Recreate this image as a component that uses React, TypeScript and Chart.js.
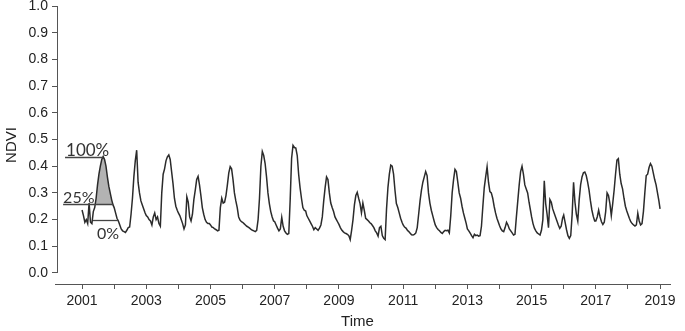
import React, { useEffect, useRef } from 'react';
import { Chart, registerables } from 'chart.js';

Chart.register(...registerables);

// NDVI, 23 composites (16-day) per year
const ndvi2001 = [0.236, 0.215, 0.19, 0.2, 0.185, 0.262, 0.19, 0.185, 0.23, 0.245, 0.28, 0.33, 0.37, 0.4, 0.425, 0.436, 0.425, 0.4, 0.36, 0.325, 0.3, 0.275, 0.255];
const ndvi2002 = [0.245, 0.225, 0.205, 0.195, 0.18, 0.165, 0.158, 0.155, 0.152, 0.16, 0.17, 0.172, 0.22, 0.28, 0.36, 0.42, 0.46, 0.34, 0.3, 0.27, 0.255, 0.24, 0.225];
const ndvi2003 = [0.215, 0.21, 0.2, 0.195, 0.18, 0.21, 0.225, 0.2, 0.21, 0.185, 0.175, 0.3, 0.37, 0.39, 0.42, 0.435, 0.442, 0.425, 0.38, 0.335, 0.28, 0.25, 0.235];
const ndvi2004 = [0.225, 0.215, 0.2, 0.185, 0.165, 0.18, 0.285, 0.265, 0.21, 0.195, 0.22, 0.275, 0.31, 0.35, 0.362, 0.33, 0.29, 0.245, 0.22, 0.2, 0.19, 0.185, 0.185];
const ndvi2005 = [0.18, 0.172, 0.17, 0.165, 0.162, 0.158, 0.16, 0.245, 0.28, 0.262, 0.265, 0.29, 0.33, 0.375, 0.398, 0.39, 0.35, 0.3, 0.27, 0.245, 0.21, 0.198, 0.192];
const ndvi2006 = [0.19, 0.185, 0.18, 0.175, 0.172, 0.168, 0.163, 0.16, 0.158, 0.155, 0.16, 0.2, 0.28, 0.4, 0.455, 0.44, 0.41, 0.36, 0.3, 0.26, 0.23, 0.21, 0.195];
const ndvi2007 = [0.192, 0.18, 0.168, 0.158, 0.165, 0.208, 0.175, 0.158, 0.15, 0.145, 0.148, 0.275, 0.43, 0.478, 0.47, 0.468, 0.44, 0.37, 0.32, 0.28, 0.245, 0.235, 0.232];
const ndvi2008 = [0.215, 0.205, 0.195, 0.185, 0.175, 0.162, 0.17, 0.165, 0.16, 0.168, 0.18, 0.21, 0.27, 0.32, 0.36, 0.35, 0.3, 0.262, 0.245, 0.23, 0.21, 0.2, 0.19];
const ndvi2009 = [0.182, 0.17, 0.161, 0.155, 0.15, 0.148, 0.145, 0.14, 0.125, 0.16, 0.2, 0.255, 0.29, 0.302, 0.28, 0.26, 0.225, 0.262, 0.235, 0.205, 0.2, 0.195, 0.188];
const ndvi2010 = [0.185, 0.178, 0.17, 0.158, 0.15, 0.138, 0.17, 0.175, 0.14, 0.13, 0.125, 0.24, 0.32, 0.37, 0.404, 0.4, 0.37, 0.31, 0.26, 0.245, 0.225, 0.205, 0.19];
const ndvi2011 = [0.18, 0.172, 0.168, 0.16, 0.155, 0.149, 0.143, 0.142, 0.145, 0.15, 0.17, 0.22, 0.27, 0.31, 0.34, 0.36, 0.38, 0.365, 0.3, 0.262, 0.235, 0.215, 0.195];
const ndvi2012 = [0.18, 0.17, 0.163, 0.158, 0.152, 0.148, 0.155, 0.16, 0.158, 0.16, 0.15, 0.215, 0.3, 0.35, 0.388, 0.38, 0.34, 0.3, 0.28, 0.25, 0.225, 0.205, 0.185];
const ndvi2013 = [0.165, 0.158, 0.149, 0.14, 0.132, 0.145, 0.14, 0.142, 0.138, 0.14, 0.175, 0.25, 0.32, 0.36, 0.398, 0.34, 0.305, 0.3, 0.28, 0.25, 0.225, 0.205, 0.19];
const ndvi2014 = [0.178, 0.165, 0.158, 0.155, 0.17, 0.19, 0.18, 0.165, 0.158, 0.15, 0.142, 0.145, 0.21, 0.27, 0.33, 0.38, 0.4, 0.37, 0.33, 0.315, 0.3, 0.265, 0.235];
const ndvi2015 = [0.21, 0.185, 0.168, 0.158, 0.15, 0.146, 0.142, 0.16, 0.2, 0.345, 0.26, 0.22, 0.17, 0.275, 0.265, 0.24, 0.225, 0.21, 0.195, 0.18, 0.167, 0.175, 0.205];
const ndvi2016 = [0.217, 0.19, 0.162, 0.14, 0.13, 0.14, 0.22, 0.34, 0.265, 0.22, 0.195, 0.275, 0.33, 0.36, 0.375, 0.378, 0.365, 0.34, 0.31, 0.27, 0.236, 0.212, 0.195];
const ndvi2017 = [0.195, 0.21, 0.235, 0.21, 0.192, 0.182, 0.19, 0.23, 0.3, 0.29, 0.26, 0.215, 0.26, 0.31, 0.37, 0.423, 0.428, 0.37, 0.335, 0.315, 0.28, 0.25, 0.232];
const ndvi2018 = [0.22, 0.205, 0.192, 0.185, 0.18, 0.176, 0.18, 0.224, 0.195, 0.18, 0.185, 0.23, 0.3, 0.365, 0.37, 0.395, 0.41, 0.4, 0.375, 0.35, 0.33, 0.3, 0.27];
const ndvi2019 = [0.24];

const seriesYears = [2001, 2002, 2003, 2004, 2005, 2006, 2007, 2008, 2009, 2010, 2011, 2012, 2013, 2014, 2015, 2016, 2017, 2018, 2019];
const yearlySeries = [ndvi2001, ndvi2002, ndvi2003, ndvi2004, ndvi2005, ndvi2006, ndvi2007, ndvi2008, ndvi2009, ndvi2010, ndvi2011, ndvi2012, ndvi2013, ndvi2014, ndvi2015, ndvi2016, ndvi2017, ndvi2018, ndvi2019];

const xTickYears = [2001, 2002, 2003, 2004, 2005, 2006, 2007, 2008, 2009, 2010, 2011, 2012, 2013, 2014, 2015, 2016, 2017, 2018, 2019];
const yTickValues = [0, 0.1, 0.2, 0.3, 0.4, 0.5, 0.6, 0.7, 0.8, 0.9, 1.0];
const xTitle = 'Time';
const yTitle = 'NDVI';

// highlighted growing season (2001), composites 9..22, filled above the 25% level
const seasonFirstIndex = 9;
const markerLabels = ['100%', '25%', '0%'];
const markerLevels = [0.436, 0.257, 0.198];
const markerStart = [2000.47, 2000.41, 2001.34];
const markerEnd = [2001.65, 2001.97, 2002.12];

const COMPOSITE_STEP = 16 / 365;

const linePoints: { x: number; y: number }[] = [];
yearlySeries.forEach((arr, k) => {
  arr.forEach((v, i) => linePoints.push({ x: seriesYears[k] + i * COMPOSITE_STEP, y: v }));
});
const seasonPoints = ndvi2001.slice(seasonFirstIndex).map((v, j) => ({
  x: 2001 + (j + seasonFirstIndex) * COMPOSITE_STEP,
  y: v,
}));

const AXIS_FONT = "'Liberation Sans', Arial, sans-serif";

const annotationPlugin = {
  id: 'ndviAnnotations',
  afterDatasetsDraw(chart: any) {
    const { ctx, scales, chartArea } = chart;
    const xs = scales.x;
    const ys = scales.y;
    ctx.save();
    // y axis line from first to last tick
    ctx.strokeStyle = '#555';
    ctx.lineWidth = 1;
    const ax = Math.floor(chartArea.left) + 0.5;
    ctx.beginPath();
    ctx.moveTo(ax, ys.getPixelForValue(yTickValues[yTickValues.length - 1]));
    ctx.lineTo(ax, ys.getPixelForValue(yTickValues[0]));
    ctx.stroke();
    // small extension of the x axis line to the left of the y axis
    const bx = Math.floor(chartArea.bottom) + 0.5;
    ctx.beginPath();
    ctx.moveTo(chartArea.left - 2, bx);
    ctx.lineTo(chartArea.left + 1, bx);
    ctx.stroke();

    // x axis title, centred on the plot region
    ctx.fillStyle = '#222';
    ctx.font = `15px ${AXIS_FONT}`;
    ctx.textAlign = 'center';
    ctx.textBaseline = 'middle';
    ctx.fillText(xTitle, (chartArea.left + chartArea.right) / 2 - 6, chart.height - 9);

    // percentage markers
    const textOffsets = [
      { dx: 1, dy: -2, size: 17 },
      { dx: 0, dy: -2, size: 16 },
      { dx: 4, dy: 18, size: 16 },
    ];
    markerLabels.forEach((label, k) => {
      const py = Math.round(ys.getPixelForValue(markerLevels[k])) + 0.5;
      const x0 = xs.getPixelForValue(markerStart[k]);
      const x1 = xs.getPixelForValue(markerEnd[k]);
      ctx.strokeStyle = '#444';
      ctx.lineWidth = 1.3;
      ctx.beginPath();
      ctx.moveTo(x0, py);
      ctx.lineTo(x1, py);
      ctx.stroke();
      const o = textOffsets[k];
      ctx.fillStyle = '#333';
      ctx.font = `${o.size}px Lato, 'Open Sans', sans-serif`;
      ctx.textAlign = 'left';
      ctx.textBaseline = 'alphabetic';
      ctx.fillText(label, x0 + o.dx, py + o.dy);
    });
    ctx.restore();
  },
};

export default function App() {
  const ref = useRef<HTMLCanvasElement>(null);

  useEffect(() => {
    if (!ref.current) return;
    const chart = new Chart(ref.current, {
      type: 'line',
      data: {
        datasets: [
          {
            data: linePoints,
            borderColor: '#2b2b2b',
            borderWidth: 1.5,
            pointRadius: 0,
            tension: 0,
            fill: false,
            order: 1,
          },
          {
            data: seasonPoints,
            borderColor: 'rgba(0,0,0,0)',
            borderWidth: 0,
            pointRadius: 0,
            tension: 0,
            fill: { target: { value: markerLevels[1] }, above: '#b3b3b3', below: 'rgba(0,0,0,0)' },
            order: 2,
          },
        ],
      } as any,
      options: {
        animation: false,
        responsive: false,
        layout: { padding: { left: 0, top: 6, right: 15, bottom: 0 } },
        plugins: {
          legend: { display: false },
          tooltip: { enabled: false },
        },
        scales: {
          x: {
            type: 'linear',
            min: 2000.22,
            max: 2019.31,
            afterBuildTicks: (s: any) => {
              s.ticks = xTickYears.map((v) => ({ value: v }));
            },
            afterFit: (s: any) => {
              s.height = 47;
              s.paddingLeft = 0;
              s.paddingRight = 0;
            },
            ticks: {
              autoSkip: false,
              maxRotation: 0,
              padding: 4,
              color: '#222',
              font: { family: AXIS_FONT, size: 14 },
              callback: (v: any) => (Math.round(Number(v)) % 2 === 1 ? String(Math.round(Number(v))) : ''),
            },
            grid: { drawOnChartArea: false, drawTicks: true, tickLength: 5, color: '#555' },
            border: { display: true, color: '#555', width: 1 },
            title: { display: false, text: xTitle },
          },
          y: {
            type: 'linear',
            min: -0.0412,
            max: 1,
            afterBuildTicks: (s: any) => {
              s.ticks = yTickValues.map((v) => ({ value: v }));
            },
            afterFit: (s: any) => {
              s.width = 57;
              s.paddingTop = 0;
              s.paddingBottom = 0;
            },
            ticks: {
              padding: 4,
              color: '#222',
              font: { family: AXIS_FONT, size: 14 },
              callback: (v: any) => Number(v).toFixed(1),
            },
            grid: { drawOnChartArea: false, drawTicks: true, tickLength: 5, color: '#555' },
            border: { display: false },
            title: {
              display: true,
              text: yTitle,
              color: '#222',
              font: { family: AXIS_FONT, size: 15 },
              padding: { top: 3, bottom: 0 },
            },
          },
        },
      } as any,
      plugins: [annotationPlugin],
    });
    return () => chart.destroy();
  }, []);

  return (
    <div style={{ position: 'absolute', left: 0, top: 0, width: 685, height: 331, background: '#fff' }}>
      <canvas ref={ref} width={685} height={331} style={{ display: 'block', width: 685, height: 331 }} />
    </div>
  );
}
